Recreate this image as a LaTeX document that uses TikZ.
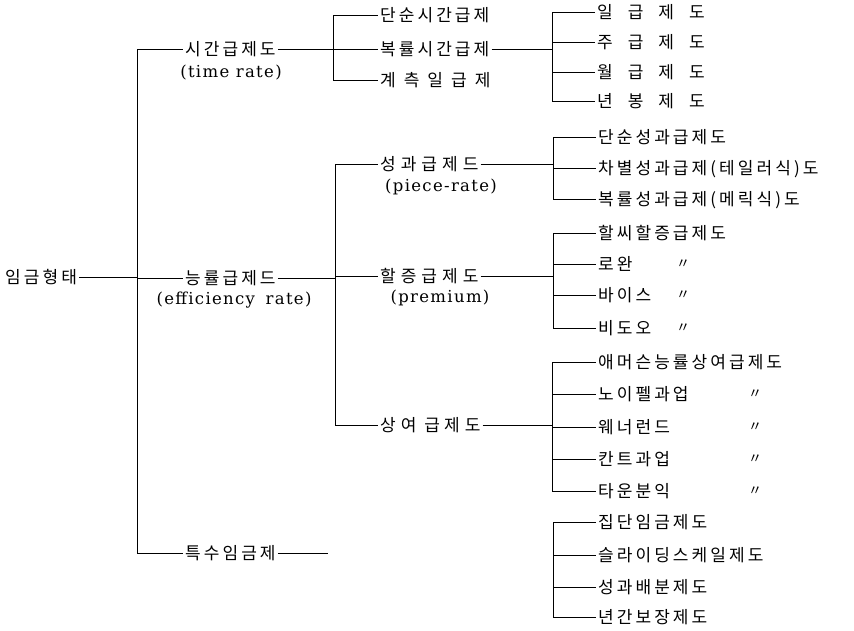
\documentclass[tikz,border=0pt]{standalone}
\usepackage{fontspec}
\newfontfamily\kr[LetterSpace=18]{Noto Sans CJK KR}
\newfontfamily\en[LetterSpace=8]{DejaVu Serif}
\newcommand{\gp}[1]{\hspace{#1pt}}
\tikzset{
  lbl/.style={font=\kr\fontsize{17}{19}\selectfont, inner xsep=2pt, inner ysep=0pt,
              anchor=west, text height=14pt, text depth=2pt},
  eng/.style={font=\en\fontsize{16.5}{18}\selectfont, inner sep=0pt},
  ditto/.style={font=\kr\fontsize{14}{16}\selectfont, inner sep=0pt},
  ln/.style={line width=0.8pt, black},
}
\begin{document}
\begin{tikzpicture}[x=1pt,y=-1pt]
\useasboundingbox (0,0) rectangle (854,630);
% root
\node[lbl] (r) at (3,277) {임금형태};
\coordinate (t) at (137,0);
% level 1
\node[lbl] (a1) at (183,49) {시간급제도};
\node[eng] (e1) at (231,73) {(time rate)};
\node[lbl] (a2) at (183,278) {능률급제드};
\node[eng] (e2) at (234,300) {(efficiency\hspace{4pt} rate)};
\node[lbl] (a3) at (183,553) {특수임금제};
\coordinate (a3end) at (328,553);
\draw[ln] (r.east) -- (t |- r.east);
\draw[ln] (t |- a1.west) -- (t |- a3.west);
\foreach \n in {a1,a2,a3} \draw[ln] (t |- \n.west) -- (\n.west);
\draw[ln] (a3.east) -- (a3end);
% time rate
\node[lbl] (b1) at (378,15) {단순시간급제};
\node[lbl] (b2) at (378,49) {복률시간급제};
\node[lbl] (b3) at (378,80) {계\gp{8}측\gp{8}일\gp{8}급\gp{8}제};
\coordinate (v1) at (333,0);
\draw[ln] (v1 |- b1.west) -- (v1 |- b3.west);
\foreach \n in {b1,b2,b3} \draw[ln] (v1 |- \n.west) -- (\n.west);
\draw[ln] (a1.east) -- (v1 |- a1.east);
% pay period
\node[lbl] (u1) at (595,12) {일\gp{15}급\gp{15}제\gp{15}도};
\node[lbl] (u2) at (595,42) {주\gp{15}급\gp{15}제\gp{15}도};
\node[lbl] (u3) at (595,72) {월\gp{15}급\gp{15}제\gp{15}도};
\node[lbl] (u4) at (595,101) {년\gp{15}봉\gp{15}제\gp{15}도};
\coordinate (v2) at (552,0);
\draw[ln] (v2 |- u1.west) -- (v2 |- u4.west);
\foreach \n in {u1,u2,u3,u4} \draw[ln] (v2 |- \n.west) -- (\n.west);
\draw[ln] (b2.east) -- (v2 |- b2.east);
% efficiency rate
\node[lbl] (c1) at (378,164) {성\gp{5}과\gp{5}급\gp{5}제\gp{5}드};
\node[eng] (e3) at (441,187) {(piece-rate)};
\node[lbl] (c2) at (378,276) {할\gp{5}증\gp{5}급\gp{5}제\gp{5}도};
\node[eng] (e4) at (440,298) {(premium)};
\node[lbl] (c3) at (378,425) {상\gp{5}여\gp{8}급\gp{4}제\gp{5}도};
\coordinate (v3) at (335,0);
\draw[ln] (v3 |- c1.west) -- (v3 |- c3.west);
\foreach \n in {c1,c2,c3} \draw[ln] (v3 |- \n.west) -- (\n.west);
\draw[ln] (a2.east) -- (v3 |- a2.east);
% piece rate
\node[lbl] (p1) at (596,137) {단순성과급제도};
\node[lbl] (p2) at (596,168) {차별성과급제(테일러식)도};
\node[lbl] (p3) at (596,199) {복률성과급제(메릭식)도};
\coordinate (v4) at (553,0);
\draw[ln] (v4 |- p1.west) -- (v4 |- p3.west);
\foreach \n in {p1,p2,p3} \draw[ln] (v4 |- \n.west) -- (\n.west);
\draw[ln] (c1.east) -- (v4 |- c1.east);
% premium
\node[lbl] (q1) at (596,233) {할씨할증급제도};
\node[lbl] (q2) at (596,264) {로완};
\node[lbl] (q3) at (596,295) {바이스};
\node[lbl] (q4) at (596,328) {비도오};
\node[ditto] (dq2) at (683,264) {〃};
\node[ditto] (dq3) at (683,295) {〃};
\node[ditto] (dq4) at (683,328) {〃};
\coordinate (v5) at (553,0);
\draw[ln] (v5 |- q1.west) -- (v5 |- q4.west);
\foreach \n in {q1,q2,q3,q4} \draw[ln] (v5 |- \n.west) -- (\n.west);
\draw[ln] (c2.east) -- (v5 |- c2.east);
% bonus
\node[lbl] (s1) at (596,362) {애머슨능률상여급제도};
\node[lbl] (s2) at (596,394) {노이펠과업};
\node[lbl] (s3) at (596,427) {웨너런드};
\node[lbl] (s4) at (596,459) {칸트과업};
\node[lbl] (s5) at (596,491) {타운분익};
\node[ditto] (ds2) at (755,394) {〃};
\node[ditto] (ds3) at (755,427) {〃};
\node[ditto] (ds4) at (755,459) {〃};
\node[ditto] (ds5) at (755,491) {〃};
\coordinate (v6) at (552,0);
\draw[ln] (v6 |- s1.west) -- (v6 |- s5.west);
\foreach \n in {s1,s2,s3,s4,s5} \draw[ln] (v6 |- \n.west) -- (\n.west);
\draw[ln] (c3.east) -- (v6 |- c3.east);
% special
\node[lbl] (w1) at (596,522) {집단임금제도};
\node[lbl] (w2) at (596,555) {슬라이딩스케일제도};
\node[lbl] (w3) at (596,587) {성과배분제도};
\node[lbl] (w4) at (596,617) {년간보장제도};
\coordinate (v7) at (553,0);
\draw[ln] (v7 |- w1.west) -- (v7 |- w4.west);
\foreach \n in {w1,w2,w3,w4} \draw[ln] (v7 |- \n.west) -- (\n.west);
\end{tikzpicture}
\end{document}
